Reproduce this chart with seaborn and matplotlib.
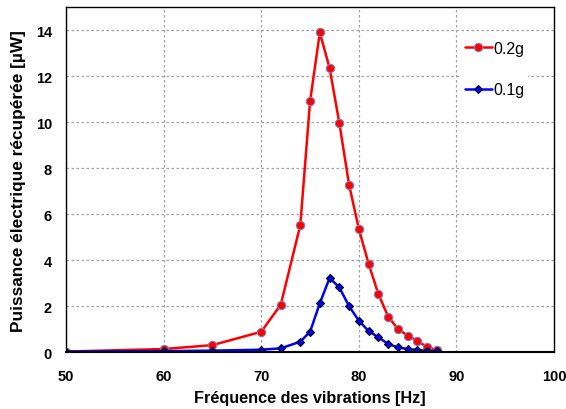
import pandas as pd
import matplotlib
matplotlib.use("Agg")
import matplotlib.pyplot as plt
import seaborn as sns

freq_02 = [50, 60, 65, 70, 72, 74, 75, 76, 77, 78, 79, 80, 81, 82, 83, 84, 85, 86, 87, 88]
power_02 = [0.02, 0.13, 0.30, 0.88, 2.06, 5.52, 10.9, 13.9, 12.35, 9.96, 7.27, 5.35,
            3.83, 2.52, 1.54, 1.0, 0.71, 0.49, 0.2, 0.09]
freq_01 = [50, 60, 65, 70, 72, 74, 75, 76, 77, 78, 79, 80, 81, 82, 83, 84, 85, 86, 87, 88]
power_01 = [0.02, 0.04, 0.06, 0.1, 0.16, 0.45, 0.88, 2.12, 3.22, 2.81, 1.99, 1.36,
            0.91, 0.64, 0.35, 0.2, 0.13, 0.09, 0.04, 0.04]
x_ticks = [50, 60, 70, 80, 90, 100]
y_ticks = [0, 2, 4, 6, 8, 10, 12, 14]

df = pd.concat([
    pd.DataFrame({"freq": freq_02, "power": power_02, "serie": "0.2g"}),
    pd.DataFrame({"freq": freq_01, "power": power_01, "serie": "0.1g"}),
])

sns.set_style("white")
plt.rcParams["font.family"] = ["Liberation Sans", "DejaVu Sans"]
plt.rcParams["text.color"] = "black"
plt.rcParams["axes.labelcolor"] = "black"
plt.rcParams["xtick.color"] = "black"
plt.rcParams["ytick.color"] = "black"

fig = plt.figure(figsize=(5.66, 4.10), dpi=100)
ax = fig.add_axes([0.1166, 0.139, 0.8624, 0.841])

sns.lineplot(data=df[df.serie == "0.2g"], x="freq", y="power", ax=ax, color="red",
             lw=1.8, marker="o", markersize=6, markerfacecolor="red",
             markeredgecolor="#8080b8", markeredgewidth=0.8, label="0.2g")
sns.lineplot(data=df[df.serie == "0.1g"], x="freq", y="power", ax=ax, color="blue",
             lw=1.8, marker="D", markersize=4.5, markerfacecolor="blue",
             markeredgecolor="black", markeredgewidth=0.8, label="0.1g")

ax.set_xlim(50, 100)
ax.set_ylim(0, 15)
ax.set_xticks(x_ticks)
ax.set_yticks(y_ticks)
ax.grid(True, color="#a0a0a0", linestyle=(0, (2, 2)), linewidth=0.9)
for s in ax.spines.values():
    s.set_color("black")
    s.set_linewidth(1.0)
ax.spines["bottom"].set_linewidth(1.5)
ax.tick_params(axis="x", labelsize=10.5, length=0, pad=12)
ax.tick_params(axis="y", labelsize=10.5, length=0, pad=10)
for lab in ax.get_xticklabels() + ax.get_yticklabels():
    lab.set_fontweight("bold")

ax.set_xlabel("Fréquence des vibrations [Hz]", fontsize=11.7, fontweight="bold", labelpad=5)
ax.set_ylabel("Puissance électrique récupérée [µW]", fontsize=12.4, fontweight="bold", labelpad=7)

leg = ax.legend(loc="upper left", bbox_to_anchor=(0.81, 0.912), frameon=True,
                facecolor="white", edgecolor="white", framealpha=1,
                fontsize=11.5, labelspacing=1.65, handlelength=1.7, handletextpad=0.1,
                borderaxespad=0.0, borderpad=0.2)
leg.get_frame().set_linewidth(0)

fig.savefig("out.png", dpi=100)
